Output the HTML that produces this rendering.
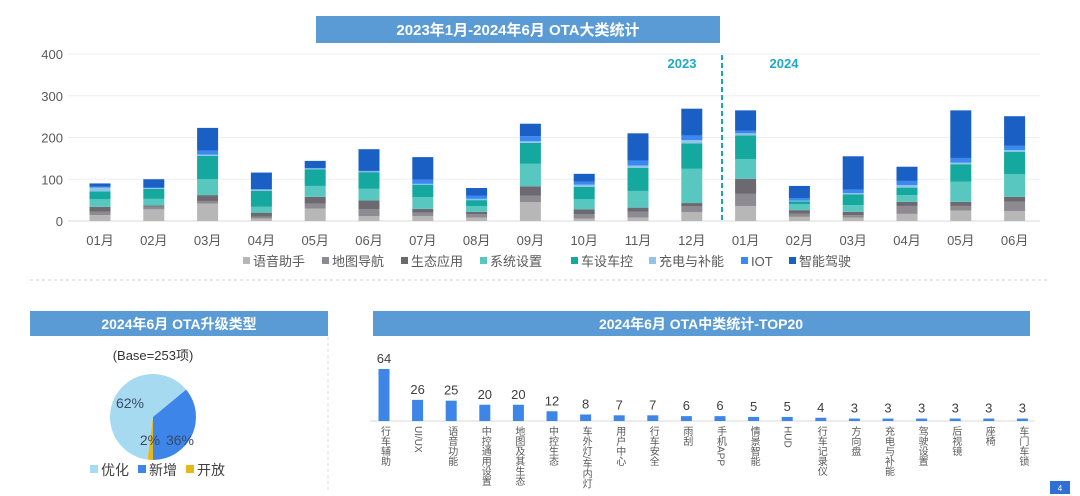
<!DOCTYPE html>
<html><head><meta charset="utf-8">
<style>
html,body{margin:0;padding:0;background:#fff;}
svg{display:block;font-family:"Liberation Sans","Noto Sans CJK SC",sans-serif;}
</style></head>
<body>
<svg id="s" width="1080" height="496" viewBox="0 0 1080 496" xmlns="http://www.w3.org/2000/svg">
  <rect x="316" y="16" width="404" height="27" fill="#5b9bd5"/>
  <text x="518" y="35" text-anchor="middle" fill="#fff" font-size="15" font-weight="bold">2023年1月-2024年6月 OTA大类统计</text>
  <g id="main"></g>
  <line x1="30" y1="280" x2="1050" y2="280" stroke="#ccc" stroke-dasharray="3,3"/>
  <line x1="328" y1="337" x2="328" y2="492" stroke="#ddd" stroke-dasharray="3,3"/>
  <rect x="30" y="311" width="298" height="25" fill="#5b9bd5"/>
  <text x="179" y="329" text-anchor="middle" fill="#fff" font-size="14" font-weight="bold">2024年6月 OTA升级类型</text>
  <text x="153" y="360" text-anchor="middle" fill="#333" font-size="13">(Base=253项)</text>
  <g id="pie"></g>
  <rect x="373" y="311" width="657" height="25" fill="#5b9bd5"/>
  <text x="701" y="329" text-anchor="middle" fill="#fff" font-size="14" font-weight="bold">2024年6月 OTA中类统计-TOP20</text>
  <g id="top"></g>
  <rect x="1050" y="481" width="20" height="13" fill="#2f6fd6"/>
  <text x="1060" y="491" text-anchor="middle" fill="#fff" font-size="8">4</text>
</svg>
<script>
const months = ["01月","02月","03月","04月","05月","06月","07月","08月","09月","10月","11月","12月","01月","02月","03月","04月","05月","06月"];
const seriesNames = ["语音助手","地图导航","生态应用","系统设置","车设车控","充电与补能","IOT","智能驾驶"];
const sVoice = [14,28,42,6,30,12,12,8,45,6,8,21,36,10,8,17,25,24];
const sMap = [8,6,6,4,12,16,8,8,16,10,14,14,29,8,6,19,11,22];
const sEco = [12,3,14,10,16,21,9,6,22,12,10,8,36,8,8,10,10,12];
const sSys = [18,16,38,14,26,28,28,14,54,24,40,82,47,14,16,16,48,54];
const sCar = [19,24,56,38,40,40,30,14,50,30,55,61,57,7,26,18,42,54];
const sCharge = [9,2,3,3,2,2,2,3,4,5,6,8,5,2,3,6,4,4];
const sIot = [2,1,10,1,1,1,10,8,12,7,12,11,6,6,8,10,11,10];
const sAdas = [8,20,54,40,17,52,54,18,30,19,65,64,49,29,80,34,114,71];
const yTicks = [0,100,200,300,400];

const pieLabels = ["优化","新增","开放"];
const pieValues = [62,36,2];

const topCats = ["行车辅助","UI/UX","语音功能","中控通用设置","地图及其生态","中控生态","车外灯/车内灯","用户中心","行车安全","雨刮","手机APP","情景智能","HUD","行车记录仪","方向盘","充电与补能","驾驶设置","后视镜","座椅","车门车锁"];
const topValues = [64,26,25,20,20,12,8,7,7,6,6,5,5,4,3,3,3,3,3,3];

const NS="http://www.w3.org/2000/svg";
function mk(parent,tag,attrs,txt){const e=document.createElementNS(NS,tag);for(const k in attrs)e.setAttribute(k,attrs[k]);if(txt!==undefined)e.textContent=txt;parent.appendChild(e);return e;}

// main chart
const g=document.getElementById('main');
const colors=["#b7b7b7","#8d8b91","#6c6970","#57c7c0","#14a89f","#92c4e8","#3a88f2","#1a5fc4"];
const series=[sVoice,sMap,sEco,sSys,sCar,sCharge,sIot,sAdas];
const y0=221, yPer=167/400;
const yS=v=>y0-v*yPer;
const xS=i=>100+i*53.8;
yTicks.forEach(t=>{
  const l=mk(g,'line',{x1:68,x2:1040,y1:yS(t),y2:yS(t),stroke:t===0?'#d9d9d9':'#eeeeee'});
  
  
  const tx=mk(g,'text',{x:63,y:yS(t)+5,'text-anchor':'end','font-size':13,fill:'#595959'},t);
  
  
});
months.forEach((m,i)=>{
  let acc=0;
  series.forEach((s,k)=>{
    const v=s[i];
    const r=mk(g,'rect',{x:xS(i)-10.5,y:yS(acc+v),width:21,height:v*yPer,fill:colors[k]});
    
    
    acc+=v;
  });
  const tx=mk(g,'text',{x:xS(i),y:245,'text-anchor':'middle','font-size':13,fill:'#595959'},m);
  
  
});
const dv=mk(g,'line',{x1:722,x2:722,y1:55,y2:221,stroke:'#1aa3c8','stroke-width':2,'stroke-dasharray':'5,3'});


const y1=mk(g,'text',{x:682,y:68,'text-anchor':'middle','font-size':13,'font-weight':'bold',fill:'#1fa8c9'},'2023');


const y2=mk(g,'text',{x:784,y:68,'text-anchor':'middle','font-size':13,'font-weight':'bold',fill:'#1fa8c9'},'2024');


// legend
const lx=[243,322,401,480,571,649,741,789];
seriesNames.forEach((n,k)=>{
  const r=mk(g,'rect',{x:lx[k],y:257,width:7,height:7,fill:colors[k]});
  
  
  const t=mk(g,'text',{x:lx[k]+10,y:266,'font-size':13,fill:'#595959'},n);
  
  
});

// pie
const p=document.getElementById('pie');
const pc=["#a5daf0","#3d85e8","#e8b71a"];
const cx=153,cy=417,R=43;
const tot=pieValues.reduce((a,b)=>a+b,0);
let ang=180+pieValues[2]/tot*360;
const pt=a=>[cx+R*Math.sin(a*Math.PI/180),cy-R*Math.cos(a*Math.PI/180)];
pieValues.forEach((v,k)=>{
  const sw=v/tot*360,a2=ang+sw;
  const [x1,yy1]=pt(ang),[x2,yy2]=pt(a2);
  const path=mk(p,'path',{d:`M${cx},${cy}L${x1},${yy1}A${R},${R} 0 ${sw>180?1:0} 1 ${x2},${yy2}Z`,fill:pc[k]});
  
  
  ang=a2;
});
[[130,408,0],[180,445,1],[150,445,2]].forEach(([x,y,k])=>{
  const t=mk(p,'text',{x:x,y:y,'text-anchor':'middle','font-size':14,fill:'#3b4a66'},pieValues[k]+'%');
  
  
});
[[90,0],[138,1],[186,2]].forEach(([x,k])=>{
  const r=mk(p,'rect',{x:x,y:465,width:8,height:8,fill:pc[k]});
  
  
  const t=mk(p,'text',{x:x+11,y:475,'font-size':14,fill:'#404040'},pieLabels[k]);
  
  
});

// top20
const tg=document.getElementById('top');
const tb=421, tPer=52/64;
const tx=i=>384+i*33.6;
const bl=mk(tg,'line',{x1:370,x2:1035,y1:tb,y2:tb,stroke:'#d9d9d9'});


topCats.forEach((c,i)=>{
  const h=topValues[i]*tPer;
  const r=mk(tg,'rect',{x:tx(i)-5.5,y:tb-h,width:11,height:h,fill:'#3d85e6'});
  
  
  const v=mk(tg,'text',{x:tx(i),y:tb-h-6,'text-anchor':'middle','font-size':13,fill:'#404040'},topValues[i]);
  
  
  const l=mk(tg,'text',{x:tx(i),y:426,'font-size':10,fill:'#595959',style:'writing-mode:vertical-rl'},c);
  
  
});
</script>
</body></html>
